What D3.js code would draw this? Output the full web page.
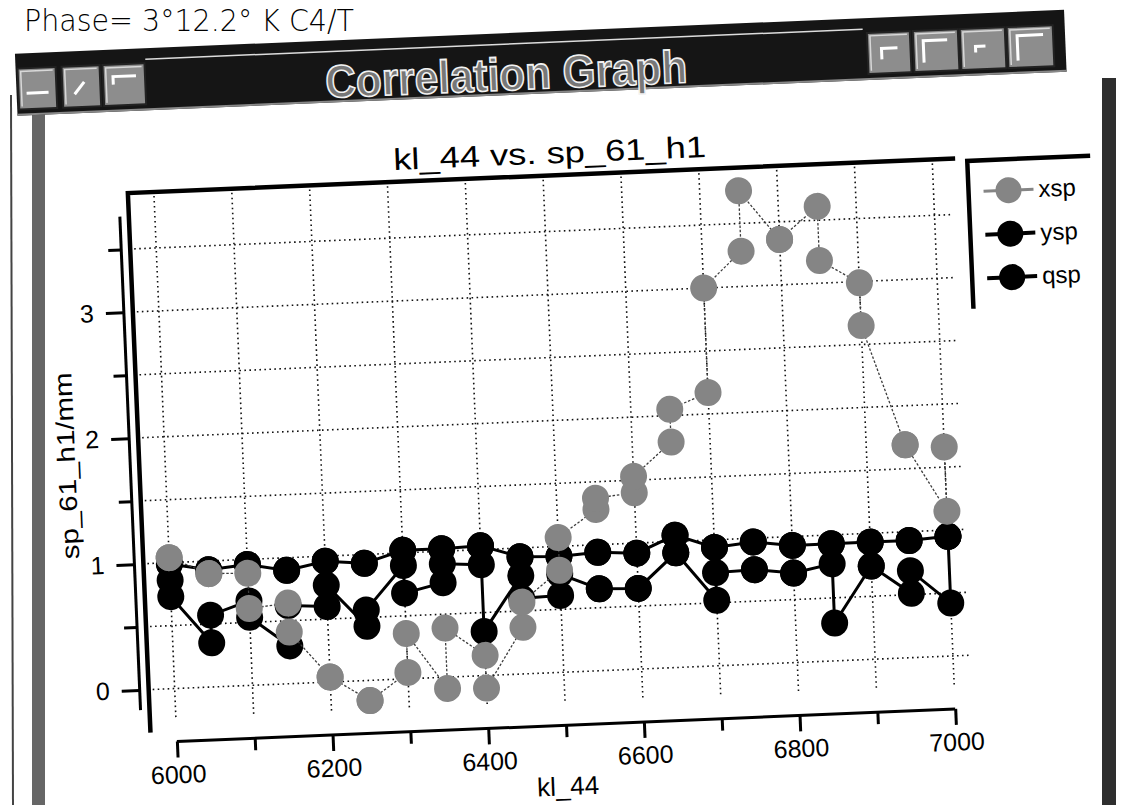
<!DOCTYPE html>
<html>
<head>
<meta charset="utf-8">
<script src="https://cdn.jsdelivr.net/npm/d3@7/dist/d3.min.js"></script>
<style>
  html, body { margin: 0; padding: 0; background: #fff; overflow: hidden; }
  svg { display: block; }
  text { font-family: "Liberation Sans", Arial, sans-serif; }
</style>
</head>
<body>
<script>
// kl_44 steps, each one measured twice
const klSteps = [6000, 6050, 6100, 6150, 6200, 6250, 6300, 6350, 6400, 6450, 6500,
                 6550, 6600, 6650, 6700, 6750, 6800, 6850, 6900, 6950, 7000];

const xsp = [1.04, 1.04, 0.90, 0.90, 0.89, 0.61, 0.64, 0.41, 0.04, 0.04, -0.16, -0.16,
             0.05, 0.36, -0.09, 0.39, 0.16, -0.10, 0.37, 0.57, 0.81, 1.07, 1.28, 1.37,
             1.40, 1.53, 1.79, 2.05, 2.17, 3.00, 3.28, 3.76, 3.36, 3.36, 3.61, 3.18,
             2.99, 2.65, 1.69, 1.69, 1.15, 1.66];

const ysp = [0.99, 0.99, 0.93, 0.93, 0.96, 0.96, 0.90, 0.90, 0.96, 0.96, 0.93, 0.93,
             1.02, 1.02, 1.02, 1.02, 1.03, 1.03, 0.93, 0.93, 0.92, 0.92, 0.94, 0.94,
             0.92, 0.92, 1.05, 1.05, 0.94, 0.94, 0.97, 0.97, 0.93, 0.93, 0.93, 0.93,
             0.93, 0.93, 0.93, 0.93, 0.95, 0.95];

const qsp = [0.86, 0.73, 0.35, 0.57, 0.67, 0.54, 0.30, 0.62, 0.60, 0.77, 0.43, 0.56,
             0.90, 0.68, 0.75, 0.90, 0.88, 0.35, 0.78, 0.60, 0.61, 0.78, 0.65, 0.65,
             0.64, 0.64, 0.91, 0.91, 0.52, 0.74, 0.75, 0.75, 0.71, 0.71, 0.77, 0.30,
             0.74, 0.74, 0.51, 0.69, 0.42, 0.95];

const xMajor = [6000, 6200, 6400, 6600, 6800, 7000];
const xMinor = [6100, 6300, 6500, 6700, 6900];
const yMajor = [0, 1, 2, 3];
const yMinor = [0.5, 1.5, 2.5, 3.5];
const xGrid = [6000, 6100, 6200, 6300, 6400, 6500, 6600, 6700, 6800, 6900, 7000];
const yGrid = [0, 0.5, 1, 1.5, 2, 2.5, 3, 3.5];

const W = 1128, H = 805;
const svg = d3.select("body").append("svg").attr("width", W).attr("height", H);

// note written on the printout
svg.append("text")
    .attr("x", 24).attr("y", 31)
    .attr("textLength", 330).attr("lengthAdjust", "spacingAndGlyphs")
    .style("font-family", "'DejaVu Sans', sans-serif")
    .style("font-weight", "200")
    .style("font-size", "30px")
    .text("Phase= 3°12.2° K C4/T");

// window borders (kept straight like in the scan)
svg.append("line").attr("x1", 11).attr("x2", 13).attr("y1", 95).attr("y2", H)
    .attr("stroke", "#444").attr("stroke-width", 2);
svg.append("rect").attr("x", 32).attr("y", 100).attr("width", 13).attr("height", H)
    .attr("fill", "#666");
svg.append("rect").attr("x", 1102).attr("y", 78).attr("width", 14).attr("height", H)
    .attr("fill", "#2e2e2e");

// the whole window is slightly tilted on the scan
const win = svg.append("g").attr("transform", "rotate(-2.4,564,402)");

// ---- title bar
const bar = win.append("g");
bar.append("rect").attr("x", 30).attr("y", 31).attr("width", 1050).attr("height", 62)
    .attr("fill", "#151515");
bar.append("line").attr("x1", 160).attr("x2", 878).attr("y1", 42).attr("y2", 42)
    .attr("stroke", "#ddd").attr("stroke-width", 1.5);
bar.append("line").attr("x1", 30).attr("x2", 1080).attr("y1", 92).attr("y2", 92)
    .attr("stroke", "#888").attr("stroke-width", 2);

const leftBtns = [[32, 38], [76, 38], [117, 42]];
const rightBtns = [[882, 43], [928, 45], [975, 45], [1022, 46]];
leftBtns.concat(rightBtns).forEach(([bx, bw]) => {
    bar.append("rect").attr("x", bx).attr("y", 46).attr("width", bw).attr("height", 41)
        .attr("fill", "#8d8d8d").attr("stroke", "#222").attr("stroke-width", 2);
    bar.append("path")
        .attr("d", `M${bx + 3},${84} V${49} H${bx + bw - 3}`)
        .attr("fill", "none").attr("stroke", "#d8d8d8").attr("stroke-width", 1.5);
});
const icon = (d) => bar.append("path").attr("d", d).attr("fill", "none")
    .attr("stroke", "#fff").attr("stroke-width", 3);
icon("M40,71 H62");
icon("M88,74 L98,62");
icon("M127,66 V58 H150");
icon("M896,73 V62 H912");
icon("M938,78 V56 H962");
icon("M990,70 V64 H1000");
icon("M1032,80 V55 H1058");

bar.append("text")
    .attr("x", 520).attr("y", 88)
    .attr("text-anchor", "middle")
    .attr("textLength", 362).attr("lengthAdjust", "spacingAndGlyphs")
    .style("font-size", "46px").style("font-weight", "bold")
    .attr("fill", "#777").attr("stroke", "#f2f2f2").attr("stroke-width", 1.6)
    .text("Correlation Graph");

// ---- plot
const plot = { left: 137, right: 961, top: 175, bottom: 708 };
const x = d3.scaleLinear().domain([6000, 7000]).range([163, 942]);
const y = d3.scaleLinear().domain([0, 3]).range([672, 294]);

const chart = win.append("g");

chart.append("text")
    .attr("x", 560).attr("y", 163)
    .attr("text-anchor", "middle")
    .attr("textLength", 313).attr("lengthAdjust", "spacingAndGlyphs")
    .style("font-size", "30px")
    .text("kl_44 vs. sp_61_h1");

// grid
chart.append("g").selectAll("line").data(xGrid).join("line")
    .attr("x1", d => x(d)).attr("x2", d => x(d))
    .attr("y1", plot.top + 4).attr("y2", plot.bottom - 4)
    .attr("stroke", "#111").attr("stroke-width", 1.6).attr("stroke-dasharray", "1.6 3.4");
chart.append("g").selectAll("line").data(yGrid).join("line")
    .attr("x1", plot.left + 4).attr("x2", plot.right)
    .attr("y1", d => y(d)).attr("y2", d => y(d))
    .attr("stroke", "#111").attr("stroke-width", 1.6).attr("stroke-dasharray", "1.6 3.4");

// sunken frame: dark on top and left only
chart.append("path")
    .attr("d", `M${plot.left},${plot.bottom + 7} V${plot.top} H${plot.right + 4}`)
    .attr("fill", "none").attr("stroke", "#000").attr("stroke-width", 4.5);

// axes
function styleAxis(g) {
    g.select(".domain").remove();
    g.selectAll(".tick line").attr("stroke", "#000").attr("stroke-width", 3);
    g.selectAll(".tick text").attr("fill", "#000").style("font-size", "25px")
        .style("font-family", "'Liberation Sans', Arial, sans-serif");
}
const xAxisY = 725;
chart.append("g").attr("transform", `translate(0,${xAxisY})`)
    .call(d3.axisBottom(x).tickValues(xMinor).tickSize(12).tickFormat(""))
    .call(styleAxis);
chart.append("g").attr("transform", `translate(0,${xAxisY})`)
    .call(d3.axisBottom(x).tickValues(xMajor).tickSize(16).tickPadding(8).tickFormat(d3.format("d")))
    .call(styleAxis);
chart.append("line")
    .attr("x1", x(6000)).attr("x2", x(7000)).attr("y1", xAxisY).attr("y2", xAxisY)
    .attr("stroke", "#000").attr("stroke-width", 3);

const yAxisX = 128;
const allY = xsp.concat(ysp, qsp);
const yExt = d3.extent(allY);
chart.append("g").attr("transform", `translate(${yAxisX},0)`)
    .call(d3.axisLeft(y).tickValues(yMinor).tickSize(13).tickFormat(""))
    .call(styleAxis);
chart.append("g").attr("transform", `translate(${yAxisX},0)`)
    .call(d3.axisLeft(y).tickValues(yMajor).tickSize(18).tickPadding(12).tickFormat(d3.format("d")))
    .call(styleAxis);
chart.append("line")
    .attr("x1", yAxisX).attr("x2", yAxisX).attr("y1", y(yExt[0])).attr("y2", y(yExt[1]))
    .attr("stroke", "#000").attr("stroke-width", 3);

chart.append("text")
    .attr("transform", "translate(73,445) rotate(-90)")
    .attr("text-anchor", "middle")
    .attr("textLength", 187).attr("lengthAdjust", "spacingAndGlyphs")
    .style("font-size", "25px")
    .text("sp_61_h1/mm");

chart.append("text")
    .attr("x", 552).attr("y", 795)
    .attr("text-anchor", "middle")
    .style("font-size", "26px")
    .text("kl_44");

// series, drawn so that the grey one ends up on top
const series = [
    { name: "qsp", vals: qsp, fill: "#000", stroke: "#000", width: 3, dash: null },
    { name: "ysp", vals: ysp, fill: "#000", stroke: "#000", width: 3, dash: null },
    { name: "xsp", vals: xsp, fill: "#858585", stroke: "#3c3c3c", width: 1.3, dash: "2.5 1.8" }
];
const toPoints = vals => vals.map((v, i) => ({ kl: klSteps[Math.floor(i / 2)], v }));
const line = d3.line().x(d => x(d.kl)).y(d => y(d.v));

series.forEach(s => {
    const pts = toPoints(s.vals);
    const g = chart.append("g").attr("class", "series-" + s.name);
    g.append("path").datum(pts)
        .attr("d", line)
        .attr("fill", "none")
        .attr("stroke", s.stroke)
        .attr("stroke-width", s.width)
        .attr("stroke-dasharray", s.dash);
    g.selectAll("circle").data(pts).join("circle")
        .attr("cx", d => x(d.kl)).attr("cy", d => y(d.v)).attr("r", 13.5)
        .attr("fill", s.fill);
});

// legend box
const legend = win.append("g");
legend.append("path")
    .attr("d", "M977,326 V178 H1100")
    .attr("fill", "none").attr("stroke", "#000").attr("stroke-width", 4.5);
const legendOrder = ["xsp", "ysp", "qsp"];
legendOrder.forEach((name, i) => {
    const s = series.find(d => d.name === name);
    const ly = 209 + i * 43.5;
    legend.append("line").attr("x1", 992).attr("x2", 1042).attr("y1", ly).attr("y2", ly)
        .attr("stroke", s.fill).attr("stroke-width", name === "xsp" ? 3 : 4);
    legend.append("circle").attr("cx", 1017).attr("cy", ly).attr("r", 13).attr("fill", s.fill);
    legend.append("text").attr("x", 1047).attr("y", ly + 8)
        .style("font-size", "24px").text(name);
});
</script>
</body>
</html>
